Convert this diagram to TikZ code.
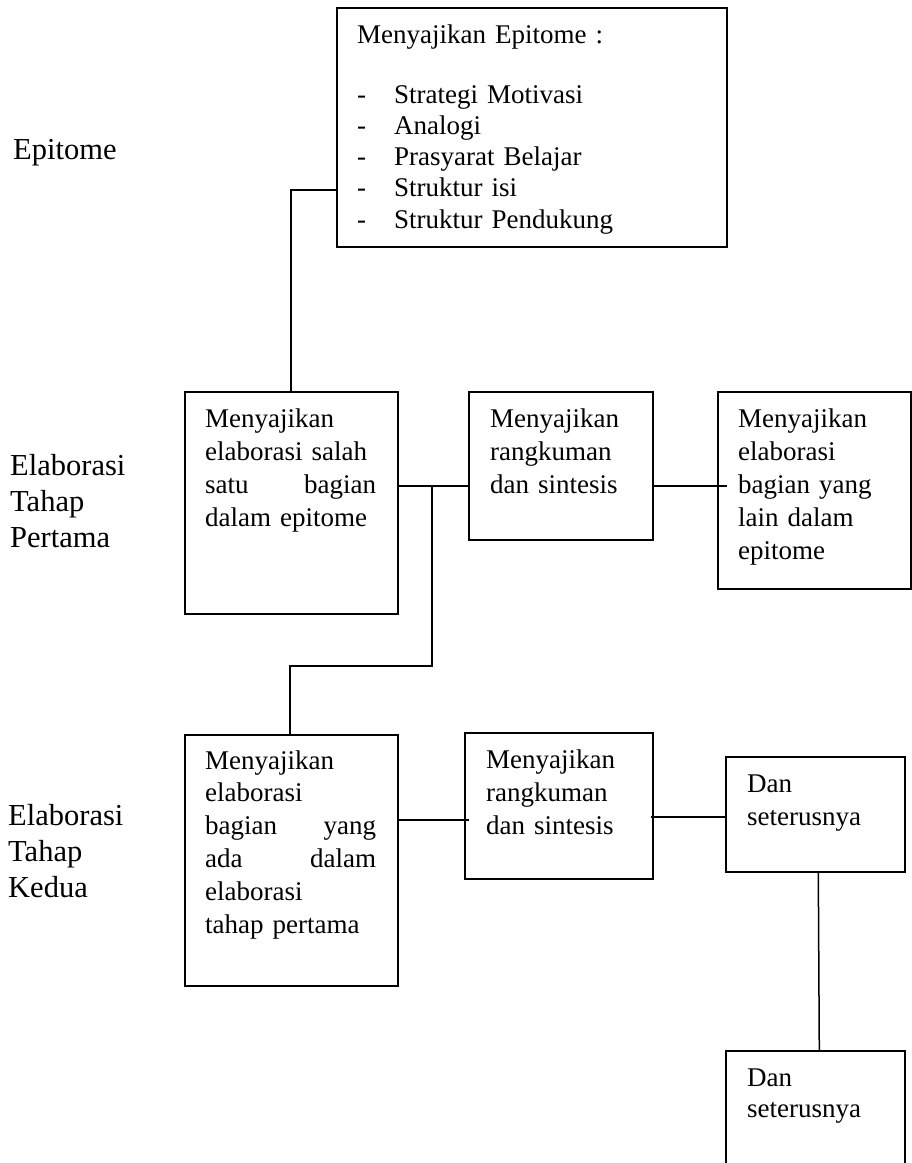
\documentclass[tikz,border=0pt]{standalone}
\usepackage{fontspec}
\setmainfont{Liberation Serif}
\begin{document}
\begin{tikzpicture}[x=1pt,y=-1pt,
  box/.style={draw, line width=1.6pt, inner sep=0pt, anchor=north west},
  conn/.style={line width=1.5pt},
  txt/.style={inner sep=0pt, anchor=base west, align=left, font=\fontsize{27}{33}\selectfont},
  lbl/.style={inner sep=0pt, anchor=base west, align=left, text width=130pt, font=\fontsize{30.5}{36}\selectfont}]
\useasboundingbox (0,0) rectangle (912,1163);
\clip (0,0) rectangle (912,1163);

% boxes
\node[box, minimum width=390pt, minimum height=239pt] (ep) at (336,7) {};
\node[box, minimum width=213pt, minimum height=222pt] (b1) at (184,391) {};
\node[box, minimum width=184pt, minimum height=148pt] (b2) at (468,391) {};
\node[box, minimum width=193pt, minimum height=197pt] (b3) at (717,391) {};
\node[box, minimum width=213pt, minimum height=251pt] (b4) at (184,734) {};
\node[box, minimum width=188pt, minimum height=146pt] (b5) at (464,732) {};
\node[box, minimum width=179pt, minimum height=115pt] (b6) at (725,756) {};
\node[box, minimum width=179pt, minimum height=160pt] (b7) at (725,1050) {};

% texts
\node[txt, text width=360pt, font=\fontsize{27}{31.2}\selectfont] (tep) at (357,43)
  {Menyajikan Epitome :\\[29pt]
   \makebox[37pt][l]{-}Strategi Motivasi\\
   \makebox[37pt][l]{-}Analogi\\
   \makebox[37pt][l]{-}Prasyarat Belajar\\
   \makebox[37pt][l]{-}Struktur isi\\
   \makebox[37pt][l]{-}Struktur Pendukung};
\node[txt, text width=171pt] (t1) at (205,427)
  {Menyajikan\\ elaborasi salah\\ satu\hfill bagian\\ dalam epitome};
\node[txt, text width=160pt] (t2) at (490,427)
  {Menyajikan\\ rangkuman\\ dan sintesis};
\node[txt, text width=165pt] (t3) at (738,427)
  {Menyajikan\\ elaborasi\\ bagian yang\\ lain dalam\\ epitome};
\node[txt, text width=171pt, font=\fontsize{27}{32.8}\selectfont] (t4) at (205,769)
  {Menyajikan\\ elaborasi\\ bagian\hfill yang\\ ada\hfill dalam\\ elaborasi\\ tahap pertama};
\node[txt, text width=160pt] (t5) at (486,768)
  {Menyajikan\\ rangkuman\\ dan sintesis};
\node[txt, text width=150pt] (t6) at (747,792)
  {Dan\\ seterusnya};
\node[txt, text width=150pt, font=\fontsize{27}{31}\selectfont] (t7) at (747,1086)
  {Dan\\ seterusnya};

% side labels
\node[lbl] (l1) at (13,159) {Epitome};
\node[lbl] (l2) at (10,475) {Elaborasi\\ Tahap\\ Pertama};
\node[lbl] (l3) at (8,825) {Elaborasi\\ Tahap\\ Kedua};

% connectors
\coordinate (j0) at (291,190);
\draw[conn] (j0 -| ep.west) -- (j0) -- (j0 |- b1.north);
\coordinate (j1) at (432,486);
\draw[conn] (j1 -| b1.east) -- (j1 -| b2.west);
\coordinate (j2) at (290,666);
\draw[conn] (j1) -- (j1 |- j2) -- (j2) -- (j2 |- b4.north);
\draw[conn] (j1 -| b2.east) -- ([xshift=10pt]j1 -| b3.west);
\coordinate (j4) at (0,820);
\draw[conn] (j4 -| b4.east) -- ([xshift=5pt]j4 -| b5.west);
\coordinate (j5) at (0,817);
\draw[conn] ([xshift=-3pt]j5 -| b5.east) -- (j5 -| b6.west);
\draw[conn] ([xshift=3pt]b6.south) -- ([xshift=4pt]b7.north);
\end{tikzpicture}
\end{document}
